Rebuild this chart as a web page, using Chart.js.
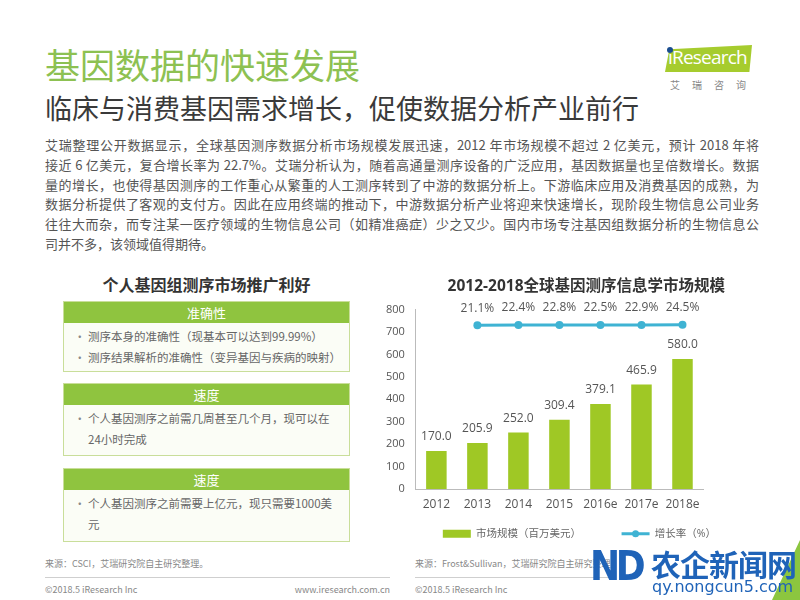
<!DOCTYPE html>
<html>
<head>
<meta charset="utf-8">
<script src="https://cdn.jsdelivr.net/npm/chart.js@4.4.1/dist/chart.umd.min.js"></script>
<style>
  body{margin:0;width:800px;height:600px;background:#fff;position:relative;overflow:hidden;
       font-family:"Noto Sans CJK SC","Noto Sans",sans-serif;}
  .abs{position:absolute;}
  #title{left:45px;top:44px;font-size:35px;color:#8dc152;line-height:40px;}
  #subtitle{left:45px;top:91px;font-size:27px;color:#3a3a3a;line-height:34px;}
  #para{left:45px;top:135px;width:714px;font-size:13px;color:#555;line-height:19.8px;}
  #para div{white-space:nowrap;text-align:justify;text-align-last:justify;}
  #para div.last{text-align-last:left;}
  #logo{left:665px;top:45px;width:87px;height:27px;background:#a6cc2e;
        clip-path:polygon(5% 16%,100% 0,97% 100%,0 100%);}
  #logotxt{left:668px;top:44px;font-family:"Open Sans",sans-serif;font-size:19px;color:#fff;letter-spacing:-0.8px;}
  #logodot{left:667px;top:47px;width:6px;height:6px;border-radius:50%;background:#1a4d8f;}
  #logocn{left:670px;top:77px;font-size:10px;color:#888;letter-spacing:12px;}
  #lefttitle{left:63px;top:272px;width:287px;text-align:center;font-size:16px;font-weight:bold;color:#333;}
  .box{position:absolute;left:63px;width:285px;border:1px solid #c9de9a;background:#fbfdf6;}
  .box .hd{height:21px;background:#8fc43f;color:#fff;text-align:center;font-size:13px;line-height:21px;}
  .box .bd{font-size:11.5px;color:#666;line-height:21px;padding:3px 4px 0 24px;white-space:nowrap;}
  .box .bd p{margin:0;position:relative;}
  .box .bd p.b:before{content:"•";position:absolute;left:-14px;color:#888;}
  .src{font-size:9px;color:#888;}
  .hr{height:1px;background:#cfcfcf;}
  #chartwrap{left:375px;top:265px;width:350px;height:290px;}
  #wm1{left:651px;top:541px;font-size:30px;font-weight:bold;color:#1f63b8;letter-spacing:-1px;}
  #wm2{left:652px;top:577px;font-family:"DejaVu Sans",sans-serif;font-size:16px;color:#1f63b8;}
  #wmnd{left:590px;top:543px;font-family:"DejaVu Sans",sans-serif;font-size:40px;font-weight:bold;color:#1f63b8;letter-spacing:-5px;line-height:46px;transform:scaleX(0.9);transform-origin:left;}
  #wmtri{left:760px;top:540px;width:40px;height:60px;background:#8cc63f;clip-path:polygon(100% 0,100% 100%,30% 100%);}
</style>
</head>
<body>
<div id="title" class="abs">基因数据的快速发展</div>
<div id="subtitle" class="abs">临床与消费基因需求增长，促使数据分析产业前行</div>
<div id="logo" class="abs"></div>
<div id="logotxt" class="abs">iResearch</div>
<div id="logodot" class="abs"></div>
<div id="logocn" class="abs">艾瑞咨询</div>
<div id="para" class="abs">
  <div>艾瑞整理公开数据显示，全球基因测序数据分析市场规模发展迅速，2012 年市场规模不超过 2 亿美元，预计 2018 年将</div>
  <div>接近 6 亿美元，复合增长率为 22.7%。艾瑞分析认为，随着高通量测序设备的广泛应用，基因数据量也呈倍数增长。数据</div>
  <div>量的增长，也使得基因测序的工作重心从繁重的人工测序转到了中游的数据分析上。下游临床应用及消费基因的成熟，为</div>
  <div>数据分析提供了客观的支付方。因此在应用终端的推动下，中游数据分析产业将迎来快速增长，现阶段生物信息公司业务</div>
  <div>往往大而杂，而专注某一医疗领域的生物信息公司（如精准癌症）少之又少。国内市场专注基因组数据分析的生物信息公</div>
  <div class="last">司并不多，该领域值得期待。</div>
</div>

<div id="lefttitle" class="abs">个人基因组测序市场推广利好</div>
<div class="box" style="top:301px;height:69px;">
  <div class="hd">准确性</div>
  <div class="bd"><p class="b">测序本身的准确性（现基本可以达到99.99%）</p><p class="b">测序结果解析的准确性（变异基因与疾病的映射）</p></div>
</div>
<div class="box" style="top:383px;height:71px;">
  <div class="hd">速度</div>
  <div class="bd"><p class="b">个人基因测序之前需几周甚至几个月，现可以在</p><p>24小时完成</p></div>
</div>
<div class="box" style="top:468px;height:72px;">
  <div class="hd">速度</div>
  <div class="bd"><p class="b">个人基因测序之前需要上亿元，现只需要1000美</p><p>元</p></div>
</div>

<div id="chartwrap" class="abs"><canvas id="c"></canvas></div>

<div class="abs src" style="left:45px;top:557px;">来源：CSCI，艾瑞研究院自主研究整理。</div>
<div class="abs hr" style="left:45px;top:577px;width:345px;"></div>
<div class="abs src" style="left:45px;top:583px;">©2018.5 iResearch Inc</div>
<div class="abs src" style="left:290px;top:583px;width:100px;text-align:right;">www.iresearch.com.cn</div>
<div class="abs src" style="left:415px;top:557px;">来源：Frost&amp;Sullivan，艾瑞研究院自主研究整理</div>
<div class="abs hr" style="left:415px;top:577px;width:200px;"></div>
<div class="abs src" style="left:415px;top:583px;">©2018.5 iResearch Inc</div>

<div id="wmtri" class="abs"></div>
<div id="wmnd" class="abs">ND</div>
<div id="wm1" class="abs">农企新闻网</div>
<div id="wm2" class="abs">qy.nongcun5.com</div>

<script>
// chart data
var years = ['2012', '2013', '2014', '2015', '2016e', '2017e', '2018e'];
var market_size = [170.0, 205.9, 252.0, 309.4, 379.1, 465.9, 580.0];
var growth_rate = [null, 21.1, 22.4, 22.8, 22.5, 22.9, 24.5];
var y_ticks = [0, 100, 200, 300, 400, 500, 600, 700, 800];

var green = '#9fc825';
var blue = '#3fb3d3';
var num_font = '"Open Sans","Noto Sans CJK SC",sans-serif';

// value labels above bars and line points, plus the dot on the legend line
var value_labels = {
  id: 'value_labels',
  afterDatasetsDraw: function(chart){
    var ctx = chart.ctx;
    ctx.save();
    ctx.font = '12px ' + num_font;
    ctx.fillStyle = '#555';
    ctx.textAlign = 'center';
    ctx.textBaseline = 'middle';
    chart.getDatasetMeta(0).data.forEach(function(bar, i){
      ctx.fillText(market_size[i].toFixed(1), bar.x, bar.y - 14);
    });
    chart.getDatasetMeta(1).data.forEach(function(pt, i){
      if(growth_rate[i] === null) return;
      ctx.fillText(growth_rate[i].toFixed(1) + '%', pt.x, pt.y - 17);
    });
    ctx.restore();
  },
  afterDraw: function(chart){
    var box = chart.legend.legendHitBoxes[1];
    if(!box) return;
    var ctx = chart.ctx;
    ctx.save();
    ctx.fillStyle = blue;
    ctx.beginPath();
    ctx.arc(box.left + 14, box.top + box.height / 2, 3.5, 0, Math.PI * 2);
    ctx.fill();
    ctx.restore();
  }
};

new Chart(document.getElementById('c'), {
  type: 'bar',
  data: {
    labels: years,
    datasets: [{
      label: '市场规模（百万美元）',
      data: market_size,
      backgroundColor: green,
      barPercentage: 0.5,
      categoryPercentage: 1.0,
      yAxisID: 'y'
    },{
      type: 'line',
      label: '增长率（%）',
      data: growth_rate,
      borderColor: blue,
      backgroundColor: blue,
      borderWidth: 3,
      pointRadius: 4,
      pointBackgroundColor: blue,
      pointBorderWidth: 0,
      yAxisID: 'y2'
    }]
  },
  options: {
    responsive: true,
    maintainAspectRatio: false,
    animation: false,
    layout: {padding: {left: 0, right: 0, top: 0, bottom: 6}},
    plugins: {
      title: {
        display: true,
        align: 'end',
        text: '2012-2018全球基因测序信息学市场规模',
        color: '#333',
        font: {size: 15.5, weight: 'bold', family: num_font},
        padding: {top: 12, bottom: 14}
      },
      legend: {
        position: 'bottom',
        align: 'end',
        labels: {
          color: '#666',
          font: {size: 10.5, family: num_font},
          usePointStyle: true,
          pointStyleWidth: 28,
          boxHeight: 8,
          padding: 9,
          sort: function(a, b){ return a.datasetIndex - b.datasetIndex; },
          generateLabels: function(chart){
            var items = Chart.defaults.plugins.legend.labels.generateLabels(chart);
            items.forEach(function(it){
              if(it.datasetIndex === 0){
                it.pointStyle = 'rect';
                it.lineWidth = 0;
                it.text = it.text + '\u2003\u2003\u2003';
              } else {
                it.pointStyle = 'line';
                it.rotation = 0;
                it.lineWidth = 3;
              }
            });
            return items;
          }
        }
      },
      tooltip: {enabled: false}
    },
    scales: {
      x: {
        grid: {display: false, drawTicks: false},
        border: {color: '#bbb'},
        ticks: {color: '#555', font: {size: 12, family: num_font}, padding: 8, maxRotation: 0, autoSkip: false}
      },
      y: {
        min: 0,
        max: 800,
        afterBuildTicks: function(axis){
          axis.ticks = y_ticks.map(function(v){ return {value: v}; });
        },
        grid: {display: false, drawTicks: false},
        border: {color: '#bbb'},
        ticks: {color: '#555', font: {size: 11, family: num_font}, padding: 11}
      },
      y2: {
        position: 'right',
        min: -800,
        max: 100,
        grid: {display: false, drawTicks: false},
        border: {display: false},
        ticks: {display: false},
        afterFit: function(axis){ axis.width = 22; }
      }
    }
  },
  plugins: [value_labels]
});
</script>
</body>
</html>
